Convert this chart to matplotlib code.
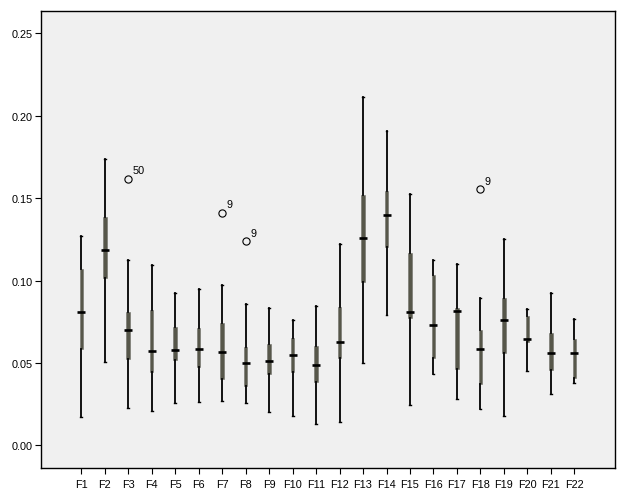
import matplotlib
matplotlib.use("Agg")
import matplotlib.pyplot as plt
from matplotlib.ticker import FormatStrFormatter

plt.rcParams['font.family'] = ['Liberation Sans', 'DejaVu Sans']

categories = [f"F{i}" for i in range(1, 23)]
whisker_low = [0.0170, 0.0504, 0.0227, 0.0209, 0.0258, 0.0264, 0.0270, 0.0259, 0.0201, 0.0180, 0.0132,
               0.0140, 0.0501, 0.0792, 0.0243, 0.0434, 0.0284, 0.0223, 0.0180, 0.0452, 0.0312, 0.0379]
q1 = [0.0587, 0.1013, 0.0525, 0.0446, 0.0515, 0.0476, 0.0403, 0.0359, 0.0432, 0.0444, 0.0387,
      0.0529, 0.0990, 0.1203, 0.0774, 0.0531, 0.0464, 0.0373, 0.0561, 0.0626, 0.0456, 0.0407]
median = [0.0812, 0.1183, 0.0701, 0.0575, 0.0580, 0.0586, 0.0565, 0.0498, 0.0513, 0.0549, 0.0488,
          0.0630, 0.1258, 0.1396, 0.0808, 0.0733, 0.0814, 0.0586, 0.0760, 0.0646, 0.0561, 0.0563]
q3 = [0.1072, 0.1388, 0.0812, 0.0824, 0.0717, 0.0713, 0.0744, 0.0598, 0.0616, 0.0652, 0.0600,
      0.0841, 0.1517, 0.1541, 0.1169, 0.1031, 0.0835, 0.0697, 0.0895, 0.0784, 0.0683, 0.0648]
whisker_high = [0.1270, 0.1740, 0.1126, 0.1094, 0.0926, 0.0948, 0.0970, 0.0857, 0.0832, 0.0762, 0.0847,
                0.1224, 0.2111, 0.1904, 0.1523, 0.1126, 0.1102, 0.0897, 0.1250, 0.0829, 0.0926, 0.0768]
outlier_cat = ["F3", "F7", "F8", "F18"]
outlier_val = [0.1618, 0.1412, 0.1239, 0.1553]
outlier_lab = ["50", "9", "9", "9"]
yticks = [0.00, 0.05, 0.10, 0.15, 0.20, 0.25]

fig = plt.figure(figsize=(6.27, 5.02), dpi=100)
fig.patch.set_facecolor('white')
ax = fig.add_axes([41.5/627, 1 - 469.3/502, (615 - 41.5)/627, (469.3 - 12.3)/502])
ax.set_facecolor('#f0f0f0')

positions = list(range(1, len(categories) + 1))
stats = []
for i in range(len(categories)):
    stats.append(dict(whislo=whisker_low[i], q1=q1[i], med=median[i], q3=q3[i],
                      whishi=whisker_high[i], fliers=[]))

ax.bxp(stats, positions=positions, widths=0.15, patch_artist=True, showfliers=False,
       capwidths=0.08,
       boxprops=dict(facecolor='#57574a', edgecolor='#707068', linewidth=0.4),
       whiskerprops=dict(color='black', linewidth=1.3),
       capprops=dict(color='black', linewidth=1.0),
       medianprops=dict(linewidth=0))

ax.plot(positions, median, linestyle='none', marker='_', markersize=5.6,
        markeredgewidth=1.9, color='black', zorder=5)

opos = [categories.index(c) + 1 for c in outlier_cat]
ax.plot(opos, outlier_val, linestyle='none', marker='o', markersize=5.2,
        markerfacecolor='none', markeredgecolor='black', markeredgewidth=0.8, zorder=5)
for x, y, lab in zip(opos, outlier_val, outlier_lab):
    ax.annotate(lab, (x, y), xytext=(3.2, 2.6), textcoords='offset points',
                ha='left', va='bottom', fontsize=7.8, color='black')

ax.set_xlim(-0.695, 23.73)
ax.set_ylim(-0.0139, 0.2633)
ax.set_xticks(positions)
ax.set_xticklabels(categories)
ax.set_yticks(yticks)
ax.yaxis.set_major_formatter(FormatStrFormatter('%.2f'))
ax.tick_params(axis='both', direction='out', length=4.5, width=0.8, labelsize=7.8,
               colors='black', pad=2)
ax.tick_params(axis='x', pad=3)
for s in ax.spines.values():
    s.set_color('black')
    s.set_linewidth(1.0)

fig.savefig('out.png', dpi=100, facecolor='white')
